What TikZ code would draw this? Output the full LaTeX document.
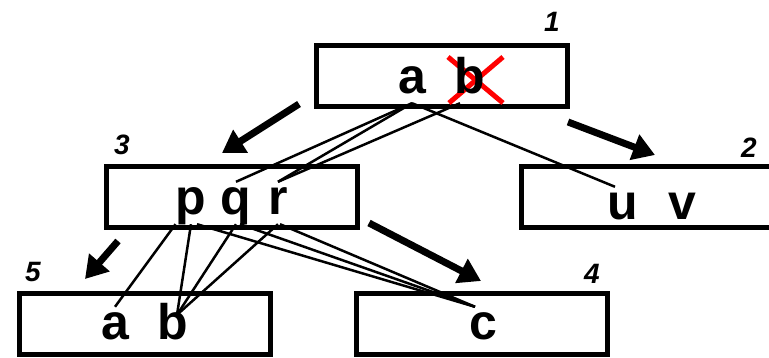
\documentclass[tikz,border=0pt]{standalone}
\usepackage{fontspec}
\setmainfont{Liberation Sans}
\usetikzlibrary{arrows.meta}

\begin{document}
\begin{tikzpicture}[x=1pt, y=-1pt,
  box/.style = {draw, line width=5pt, minimum width=251pt, minimum height=61pt, inner sep=0pt},
  letter/.style = {font=\bfseries\fontsize{50}{50}\selectfont, inner sep=0pt, text height=33pt, text depth=9pt, anchor=base},
  num/.style = {font=\bfseries\itshape\fontsize{28}{28}\selectfont, inner sep=0pt, anchor=base},
  move/.style = {line width=7pt, -{Triangle[length=22pt, width=26pt]}},
  link/.style = {line width=2.5pt}]
\useasboundingbox (0,0) rectangle (769,358);
% boxes
\node[box] (n1) at (441.5,76.5) {};
\node[box] (n2) at (647,197) {};
\node[box] (n3) at (231.5,197.5) {};
\node[box] (n4) at (481.5,324) {};
\node[box] (n5) at (144.5,324) {};
% box numbers
\node[num] (k1) at (552,32) {1};
\node[num] (k2) at (749,158) {2};
\node[num] (k3) at (122,155) {3};
\node[num] (k4) at (592,284) {4};
\node[num] (k5) at (33,282) {5};
% crossed out b
\draw[red, line width=5pt] (448,57) -- (503,103) (503,57) -- (449,103);
% letters
\node[letter] (a1) at (412,94) {a};
\node[letter] (b1) at (470,94) {b};
\node[letter] (u2) at (623,220) {u};
\node[letter] (v2) at (682,220) {v};
\node[letter] (p3) at (191,215) {p};
\node[letter] (q3) at (236,215) {q};
\node[letter] (r3) at (278,215) {r};
\node[letter] (c4) at (483,340) {c};
\node[letter] (a5) at (115,340) {a};
\node[letter] (b5) at (173,340) {b};
% big arrows
\coordinate (s13) at (299,104);
\coordinate (e13) at (222,153);
\coordinate (s12) at (568,122);
\coordinate (e12) at (655,155);
\coordinate (s35) at (118,241);
\coordinate (e35) at (85,279);
\coordinate (s34) at (369,223);
\coordinate (e34) at (481,281);
\draw[move] (s13) -- (e13);
\draw[move] (s12) -- (e12);
\draw[move] (s35) -- (e35);
\draw[move] (s34) -- (e34);
% thin links
\draw[link] (a1.south) -- (q3.north);
\draw[link] (a1.south) -- (r3.north);
\draw[link] ([xshift=-10pt]b1.south) -- (r3.north);
\draw[link] (a1.south) -- ([xshift=-8pt]u2.north);
\draw[link] (p3.south west) -- (a5.north);
\draw[link] (p3.south) -- ([xshift=4pt,yshift=-8pt]b5.north);
\draw[link] ([xshift=6pt]p3.south) -- ([xshift=-8pt]c4.north);
\draw[link] (q3.south) -- ([xshift=4pt,yshift=-8pt]b5.north);
\draw[link] ([xshift=4pt]q3.south) -- ([xshift=-8pt]c4.north);
\draw[link] (r3.south) -- ([xshift=4pt,yshift=-8pt]b5.north);
\draw[link] ([xshift=2pt]r3.south) -- ([xshift=-8pt]c4.north);
\end{tikzpicture}
\end{document}
